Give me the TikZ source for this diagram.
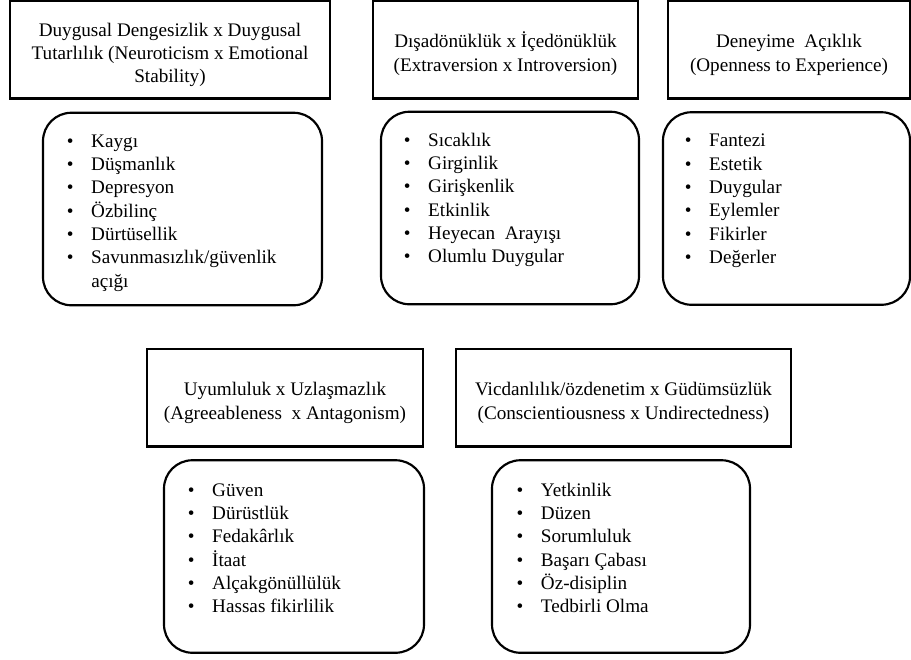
\documentclass[tikz,border=0pt]{standalone}
\usepackage{fontspec}
\setmainfont{Liberation Serif}
\usetikzlibrary{positioning}

\newcommand{\fct}[1]{\makebox[25.2pt][c]{\textbullet}#1}
\newcommand{\fctcont}[1]{\hspace*{25.2pt}#1}
\newcommand{\tstrut}{\rule{0pt}{14.5pt}}

\begin{document}
\begin{tikzpicture}[
  x=0.6pt, y=-0.6pt,
  trait/.style={draw, line width=1.5pt, minimum height=58.5pt, inner sep=0pt,
                font=\fontsize{11.5}{14}\selectfont, align=center},
  facet/.style={draw, line width=1.3pt, rounded corners=17pt, minimum height=115.5pt,
                inner sep=0pt},
  items/.style={font=\fontsize{11.5}{14}\selectfont, anchor=base west, inner sep=0pt}
]
  \useasboundingbox (0,0) rectangle (911,659);

  % Traits, top row
  \node[trait, minimum width=192pt] (neuro) at (170,49.5)
    {\tstrut Duygusal Dengesizlik x Duygusal\\Tutarlılık (Neuroticism x Emotional\\Stability)};
  \node[trait, minimum width=159pt] (extra) at (505.5,49.5)
    {\tstrut Dışadönüklük x İçedönüklük\\(Extraversion x Introversion)};
  \node[trait, minimum width=145.2pt] (open) at (789,49.5)
    {\tstrut Deneyime~ Açıklık\\(Openness to Experience)};

  % Traits, bottom row
  \node[trait, minimum width=165.6pt] (agree) at (285,397.5)
    {\tstrut Uyumluluk x Uzlaşmazlık\\(Agreeableness~ x Antagonism)};
  \node[trait, minimum width=201pt] (consc) at (623.5,397.5)
    {\tstrut Vicdanlılık/özdenetim x Güdümsüzlük\\(Conscientiousness x Undirectedness)};

  % Facet boxes
  \node[facet, minimum width=167.4pt] (neurof) at (182.5,209) {};
  \node[facet, minimum width=154.8pt] (extraf) at (510,208) {};
  \node[facet, minimum width=148.2pt] (openf) at (786.5,208.5) {};
  \node[facet, minimum width=156pt] (agreef) at (294,556.5) {};
  \node[facet, minimum width=154.8pt] (conscf) at (621,556.5) {};

  % Facet lists
  \node[items] (neurol) at ([xshift=4.2pt, yshift=-21.3pt]neurof.north west)
    {\begin{tabular}[t]{@{}l@{}}
      \fct{Kaygı}\\ \fct{Düşmanlık}\\ \fct{Depresyon}\\ \fct{Özbilinç}\\
      \fct{Dürtüsellik}\\ \fct{Savunmasızlık/güvenlik}\\ \fctcont{açığı}
    \end{tabular}};
  \node[items] (extral) at ([xshift=3.6pt, yshift=-21.3pt]extraf.north west)
    {\begin{tabular}[t]{@{}l@{}}
      \fct{Sıcaklık}\\ \fct{Girginlik}\\ \fct{Girişkenlik}\\ \fct{Etkinlik}\\
      \fct{Heyecan~ Arayışı}\\ \fct{Olumlu Duygular}
    \end{tabular}};
  \node[items] (openl) at ([xshift=3pt, yshift=-21.3pt]openf.north west)
    {\begin{tabular}[t]{@{}l@{}}
      \fct{Fantezi}\\ \fct{Estetik}\\ \fct{Duygular}\\ \fct{Eylemler}\\
      \fct{Fikirler}\\ \fct{Değerler}
    \end{tabular}};
  \node[items] (agreel) at ([xshift=4.2pt, yshift=-22.2pt]agreef.north west)
    {\begin{tabular}[t]{@{}l@{}}
      \fct{Güven}\\ \fct{Dürüstlük}\\ \fct{Fedakârlık}\\ \fct{İtaat}\\
      \fct{Alçakgönüllülük}\\ \fct{Hassas fikirlilik}
    \end{tabular}};
  \node[items] (conscl) at ([xshift=4.6pt, yshift=-22.2pt]conscf.north west)
    {\begin{tabular}[t]{@{}l@{}}
      \fct{Yetkinlik}\\ \fct{Düzen}\\ \fct{Sorumluluk}\\ \fct{Başarı Çabası}\\
      \fct{Öz-disiplin}\\ \fct{Tedbirli Olma}
    \end{tabular}};
\end{tikzpicture}
\end{document}
